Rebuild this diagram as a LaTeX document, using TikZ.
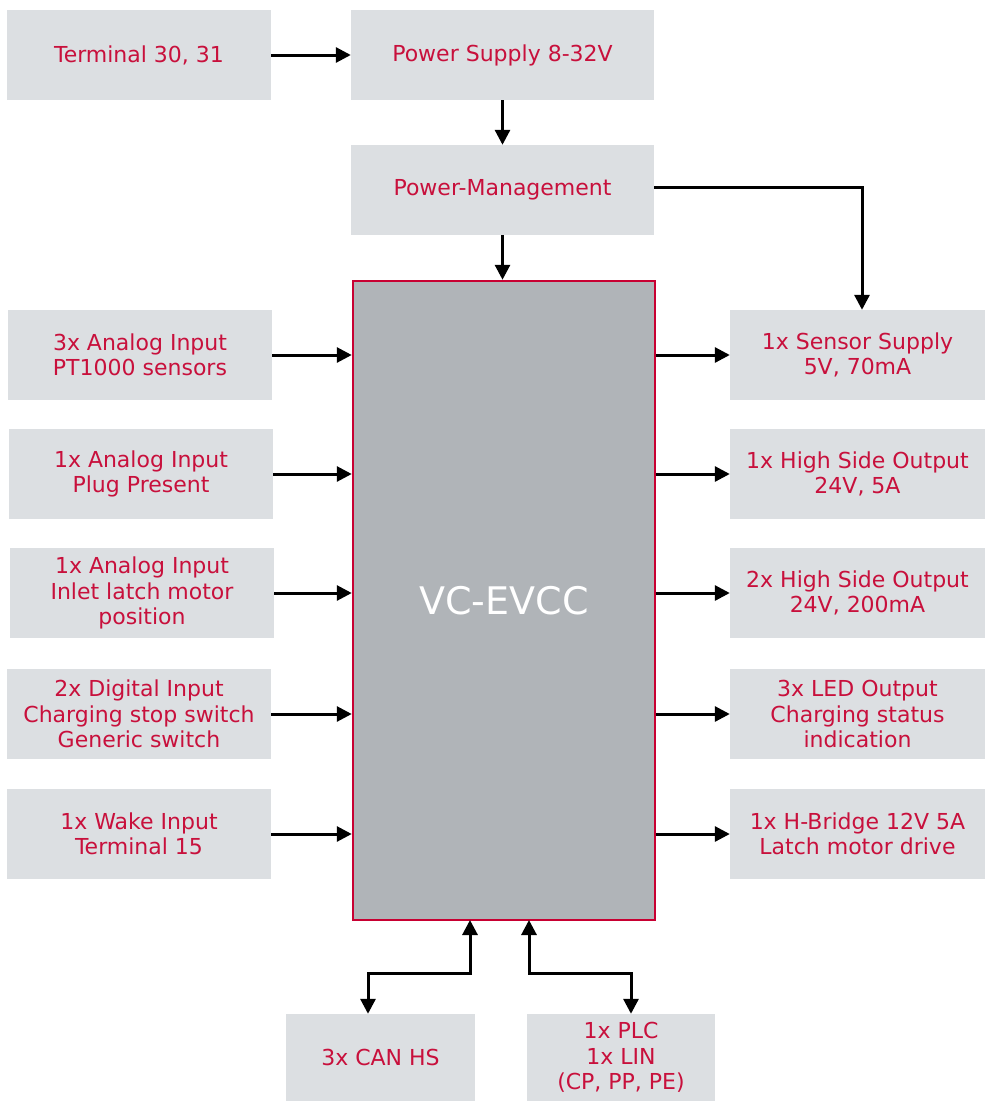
\documentclass[tikz,border=0pt]{standalone}
\usepackage{fontspec}
\setmainfont{DejaVu Sans}
\usetikzlibrary{arrows.meta,calc}
\definecolor{txtred}{RGB}{200,16,60}
\definecolor{boxgray}{RGB}{220,223,226}
\definecolor{vcgray}{RGB}{176,180,184}
\definecolor{vcborder}{RGB}{200,0,50}
\tikzset{
  box/.style={fill=boxgray, draw=none, text=txtred, align=center, inner sep=0pt,
    font=\fontsize{22}{25.5}\selectfont},
  arr/.style={line width=3pt, -{Triangle[length=15pt,width=15pt]}},
  darr/.style={line width=3pt, {Triangle[length=15pt,width=15pt]}-{Triangle[length=15pt,width=15pt]}},
}
\begin{document}
\begin{tikzpicture}[x=1pt,y=-1pt]
\useasboundingbox (0,0) rectangle (985,1101);
% top row
\node[box, minimum width=264pt, minimum height=90pt] (t3031) at (139,55) {Terminal 30, 31};
\node[box, minimum width=303pt, minimum height=90pt] (ps) at (502.5,55) {Power Supply 8-32V};
\node[box, minimum width=303pt, minimum height=90pt] (pm) at (502.5,190) {Power-Management};
% main block
\node[fill=vcgray, draw=vcborder, line width=2.5pt, minimum width=302pt, minimum height=639pt,
  text=white, font=\fontsize{38}{42}\selectfont, inner sep=0pt] (vc) at (504,600.5) {VC-EVCC};
% left inputs
\node[box, minimum width=264pt, minimum height=90pt] (l1) at (140,355) {3x Analog Input\\PT1000 sensors};
\node[box, minimum width=264pt, minimum height=90pt] (l2) at (141,474) {1x Analog Input\\Plug Present};
\node[box, minimum width=264pt, minimum height=90pt] (l3) at (142,593) {1x Analog Input\\Inlet latch motor\\position};
\node[box, minimum width=264pt, minimum height=90pt] (l4) at (139,714) {2x Digital Input\\Charging stop switch\\Generic switch};
\node[box, minimum width=264pt, minimum height=90pt] (l5) at (139,834) {1x Wake Input\\Terminal 15};
% right outputs
\node[box, minimum width=255pt, minimum height=90pt] (r1) at (857.5,355) {1x Sensor Supply\\5V, 70mA};
\node[box, minimum width=255pt, minimum height=90pt] (r2) at (857.5,474) {1x High Side Output\\24V, 5A};
\node[box, minimum width=255pt, minimum height=90pt] (r3) at (857.5,593) {2x High Side Output\\24V, 200mA};
\node[box, minimum width=255pt, minimum height=90pt] (r4) at (857.5,714) {3x LED Output\\Charging status\\indication};
\node[box, minimum width=255pt, minimum height=90pt] (r5) at (857.5,834) {1x H-Bridge 12V 5A\\Latch motor drive};
% bottom
\node[box, minimum width=189pt, minimum height=87pt] (can) at (380.5,1057.5) {3x CAN HS};
\node[box, minimum width=188pt, minimum height=87pt] (plc) at (621,1057.5) {1x PLC\\1x LIN\\(CP, PP, PE)};
% connectors
\draw[arr] (t3031.east) -- (ps.west);
\draw[arr] (ps.south) -- (pm.north);
\draw[arr] (pm.south) -- (pm.south |- vc.north);
\coordinate (pmturn) at (862,187);
\draw[arr] (pm.east |- pmturn) -- (pmturn) -- (pmturn |- r1.north);
\foreach \n in {l1,l2,l3,l4,l5}{
  \draw[arr] (\n.east) -- (\n.east -| vc.west);
}
\foreach \n in {r1,r2,r3,r4,r5}{
  \draw[arr] (\n.west -| vc.east) -- (\n.west);
}
\coordinate (vcb1) at (470,920);
\coordinate (vcb2) at (529,920);
\coordinate (canx) at (368,973);
\coordinate (plcx) at (631,973);
\draw[darr] (vcb1) |- (canx) -- (canx |- can.north);
\draw[darr] (vcb2) |- (plcx) -- (plcx |- plc.north);
\end{tikzpicture}
\end{document}
